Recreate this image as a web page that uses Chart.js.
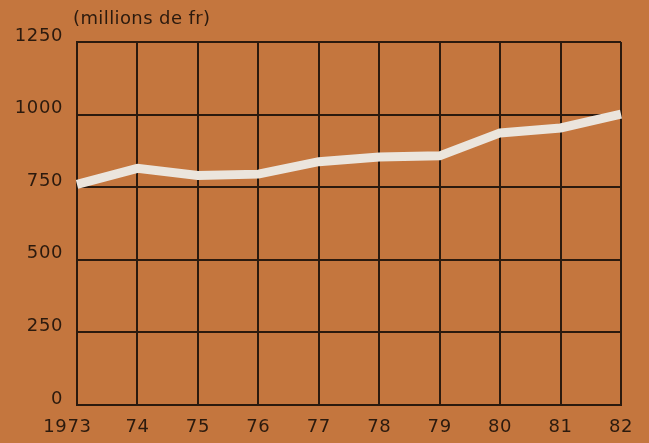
<!DOCTYPE html>
<html>
<head>
<meta charset="utf-8">
<script src="https://cdn.jsdelivr.net/npm/chart.js@4/dist/chart.umd.min.js"></script>
<style>
  html, body { margin: 0; padding: 0; background: #c4763e; }
  canvas { display: block; }
</style>
</head>
<body>
<canvas id="chart" width="649" height="443"></canvas>
<script>
'use strict';

/*********** DATA ***********/
var years = ['1973', '74', '75', '76', '77', '78', '79', '80', '81', '82'];
var amounts = [760, 815, 790, 795, 838, 854, 858, 937, 954, 1002];
var yTicks = [0, 250, 500, 750, 1000, 1250];
var unitLabel = '(millions de fr)';

/*********** STYLE ***********/
var ink = '#2b1a0e';
var font = { family: '"DejaVu Sans", sans-serif', size: 18 };

// a little letter spacing like the printed chart, plus the unit label
var unitPlugin = {
  id: 'unit',
  beforeDraw: function(chart) {
    chart.ctx.letterSpacing = '0.6px';
  },
  afterDraw: function(chart) {
    var ctx = chart.ctx;
    ctx.save();
    ctx.letterSpacing = '0.4px';
    ctx.fillStyle = ink;
    ctx.font = '18px "DejaVu Sans", sans-serif';
    ctx.textAlign = 'left';
    ctx.textBaseline = 'middle';
    ctx.fillText(unitLabel, 73, 19);
    ctx.restore();
    ctx.letterSpacing = '0px';
  }
};

var ctx = document.getElementById('chart').getContext('2d');
new Chart(ctx, {
  type: 'line',
  data: {
    labels: years,
    datasets: [{
      data: amounts,
      borderColor: '#ebe5dd',
      borderWidth: 9,
      borderJoinStyle: 'miter',
      pointRadius: 0,
      tension: 0,
      fill: false
    }]
  },
  options: {
    responsive: false,
    devicePixelRatio: 1,
    animation: false,
    layout: { padding: { top: 42, right: 28, left: 0, bottom: 0 } },
    plugins: {
      legend: { display: false },
      tooltip: { enabled: false }
    },
    scales: {
      x: {
        type: 'category',
        offset: false,
        afterFit: function(scale) { scale.height = 38; },
        grid: { color: ink, lineWidth: 2, drawTicks: false },
        border: { color: ink, width: 2 },
        ticks: {
          color: ink,
          font: font,
          padding: 12,
          maxRotation: 0,
          autoSkip: false,
          // the first year sits a bit left of its grid line in the original
          callback: function(value, index) {
            var label = this.getLabelForValue(value);
            return index === 0 ? label + '\u2002\u2002' : label;
          }
        }
      },
      y: {
        min: 0,
        max: 1250,
        afterFit: function(scale) { scale.width = 77; },
        afterBuildTicks: function(scale) {
          scale.ticks = yTicks.map(function(v) { return { value: v }; });
        },
        grid: { color: ink, lineWidth: 2, drawTicks: false },
        border: { color: ink, width: 2 },
        ticks: {
          color: ink,
          font: font,
          padding: 14,
          labelOffset: -6,
          callback: function(value) { return String(value); }
        }
      }
    }
  },
  plugins: [unitPlugin]
});
</script>
</body>
</html>
